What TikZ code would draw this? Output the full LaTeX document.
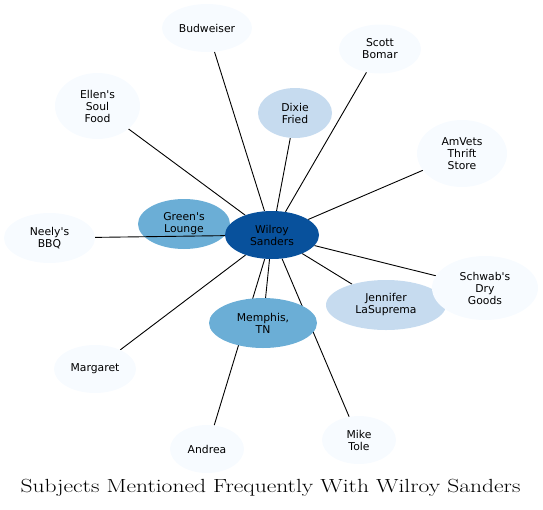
\documentclass[tikz,border=0pt]{standalone}
\usepackage{fontspec}
\usetikzlibrary{shapes.geometric}
\newfontfamily\nodefont{DejaVu Sans}
\definecolor{cdark}{HTML}{08519C}
\definecolor{cmid}{HTML}{6BAED6}
\definecolor{clight}{HTML}{C6DBEF}
\definecolor{cpale}{HTML}{F7FBFF}
\pgfdeclarelayer{edges}
\pgfsetlayers{edges,main}
\tikzset{
  ent/.style={ellipse, inner sep=0pt, draw=none, align=center,
    font=\nodefont\fontsize{10.8}{12}\selectfont, text=black},
  lvA/.style={ent, fill=cdark},
  lvB/.style={ent, fill=cmid},
  lvC/.style={ent, fill=clight},
  lvD/.style={ent, fill=cpale},
  link/.style={draw=black, line width=0.9pt},
}
\begin{document}
\begin{tikzpicture}[x=1pt,y=-1pt]
\useasboundingbox (0,0) rectangle (543,509);
\node[lvD, minimum width=85pt, minimum height=66pt] (ellen) at (97.5,106) {Ellen's\\Soul\\Food};
\node[lvD, minimum width=90pt, minimum height=48pt] (bud) at (207,28) {Budweiser};
\node[lvD, minimum width=82pt, minimum height=49pt] (scott) at (380,49) {Scott\\Bomar};
\node[lvD, minimum width=90pt, minimum height=67pt] (amvets) at (462,153.5) {AmVets\\Thrift\\Store};
\node[lvD, minimum width=91pt, minimum height=50pt] (neely) at (49.5,238) {Neely's\\BBQ};
\node[lvD, minimum width=82pt, minimum height=48pt] (marg) at (95,369) {Margaret};
\node[lvD, minimum width=74pt, minimum height=48pt] (andrea) at (207,449) {Andrea};
\node[lvD, minimum width=74pt, minimum height=48pt] (mike) at (359,440) {Mike\\Tole};
\node[lvC, minimum width=74pt, minimum height=50pt] (dixie) at (295,113) {Dixie\\Fried};
\node[lvC, minimum width=120pt, minimum height=50pt] (jenn) at (386,305) {Jennifer\\LaSuprema};
\node[lvD, minimum width=106pt, minimum height=64pt] (schwab) at (485,288) {Schwab's\\Dry\\Goods};
\node[lvB, minimum width=92pt, minimum height=50pt] (green) at (184,224) {Green's\\Lounge};
\node[lvB, minimum width=108pt, minimum height=50pt] (memphis) at (263,323) {Memphis,\\TN};
\node[lvA, minimum width=94pt, minimum height=48pt] (wil) at (272,235) {Wilroy\\Sanders};
\begin{pgfonlayer}{edges}
\foreach \t in {ellen,bud,scott,amvets,marg,andrea,mike,dixie,jenn,schwab,green,memphis}
  \draw[link] (wil) -- (\t);
\end{pgfonlayer}
\draw[link] (wil) -- (neely);
\node (title) at (270.5,488) {\resizebox{500pt}{\height}{\fontsize{19}{21}\selectfont Subjects Mentioned Frequently With Wilroy Sanders}};
\end{tikzpicture}
\end{document}
